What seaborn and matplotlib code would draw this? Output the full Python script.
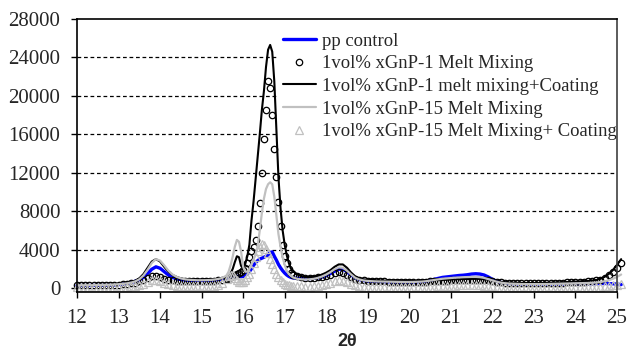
import numpy as np
import pandas as pd
import matplotlib
matplotlib.use("Agg")
import matplotlib.pyplot as plt
import seaborn as sns

# ---- data -------------------------------------------------------------
x_a = np.round(np.arange(12.0, 15.55, 0.1), 2)      # 12.0 .. 15.5
x_b = np.round(np.arange(15.6, 17.175, 0.05), 2)    # 15.60 .. 17.15
x_c = np.round(np.arange(17.2, 25.15, 0.1), 2)      # 17.2 .. 25.1
two_theta = np.concatenate([x_a, x_b, x_c])

labels = ["pp control",
          "1vol% xGnP-1 Melt Mixing",
          "1vol% xGnP-1 melt mixing+Coating",
          "1vol% xGnP-15 Melt Mixing",
          "1vol% xGnP-15 Melt Mixing+ Coating"]

pp_control = [
    250, 250, 260, 260, 270, 270, 280, 290, 300, 320, 350, 400, 480, 580, 700, 850, 1100, 1500,
    1950, 2200, 2050, 1700, 1350, 1100, 950, 880, 830, 800, 790, 780, 780, 790, 810, 840, 880, 930,
    980, 1020, 1080, 1150, 1200, 1220, 1200, 1170, 1200, 1300, 1450, 1700, 2000, 2350, 2650, 2850,
    3000, 3100, 3200, 3300, 3450, 3700, 3750, 3300, 2900, 2450, 2100, 1800, 1550, 1350, 1200, 1100,
    1050, 1000, 980, 970, 980, 1000, 1050, 1150, 1300, 1500, 1750, 1950, 1950, 1700, 1350, 1050,
    880, 780, 720, 690, 670, 650, 640, 630, 620, 610, 600, 600, 600, 610, 630, 660, 720, 800,
    900, 1000, 1100, 1150, 1200, 1250, 1300, 1330, 1380, 1450, 1480, 1450, 1350, 1150, 900, 700,
    580, 500, 450, 420, 400, 390, 380, 370, 360, 360, 350, 350, 350, 360, 370, 380, 390, 400,
    410, 420, 430, 440, 450, 460, 470, 470, 460, 440, 400, 350]

gnp1_melt = [
    280, 280, 280, 290, 290, 300, 300, 310, 320, 330, 350, 380, 420, 480, 560, 680, 850, 1050,
    1200, 1200, 1100, 950, 850, 780, 730, 700, 690, 690, 700, 700, 710, 720, 740, 770, 820, 880,
    950, 1000, 1100, 1250, 1400, 1500, 1600, 1700, 1850, 2100, 2600, 3200, 3800, 4300, 5000, 6500,
    8800, 12000, 15500, 18500, 21500, 20800, 18000, 14500, 11500, 9000, 6500, 4500, 3300, 2600, 2000, 1600,
    1400, 1200, 1100, 1050, 1050, 1050, 1100, 1150, 1250, 1400, 1550, 1650, 1600, 1400, 1150, 950,
    850, 780, 740, 720, 700, 690, 680, 670, 660, 650, 650, 650, 650, 650, 650, 660, 670, 690,
    710, 730, 750, 770, 790, 800, 820, 830, 850, 860, 860, 850, 820, 780, 720, 650,
    600, 560, 530, 510, 500, 490, 480, 480, 480, 480, 490, 500, 510, 520, 540, 560, 580, 600,
    620, 640, 660, 690, 720, 780, 880, 1050, 1300, 1650, 2100, 2600]

gnp1_coat = [
    300, 300, 300, 310, 310, 320, 330, 340, 360, 380, 410, 450, 500, 600, 750, 1000, 1450, 2100,
    2750, 3000, 2750, 2200, 1700, 1350, 1150, 1000, 920, 880, 850, 840, 840, 850, 870, 900, 950, 1020,
    1150, 1300, 1550, 2000, 2700, 3300, 3200, 2300, 2100, 2500, 3300, 4500, 7000, 9000, 11300, 13500,
    16000, 18500, 20500, 23000, 24800, 25300, 24600, 21500, 16500, 11500, 8300, 6000, 4500, 3400, 2600, 2000,
    1800, 1400, 1250, 1150, 1150, 1150, 1250, 1400, 1600, 1850, 2200, 2450, 2450, 2100, 1600, 1200,
    1000, 900, 850, 820, 800, 780, 770, 760, 750, 740, 730, 720, 720, 720, 730, 740, 760, 780,
    800, 820, 840, 860, 880, 900, 920, 930, 940, 950, 950, 940, 900, 850, 780, 700,
    640, 600, 570, 550, 540, 530, 520, 520, 520, 520, 530, 540, 550, 560, 580, 600, 620, 640,
    660, 680, 700, 730, 770, 830, 950, 1150, 1450, 1850, 2400, 3000]

gnp15_melt = [
    280, 280, 280, 290, 290, 300, 310, 320, 340, 360, 390, 430, 480, 560, 680, 900, 1300, 1900,
    2600, 3000, 2850, 2350, 1800, 1400, 1150, 1000, 900, 850, 820, 800, 800, 810, 830, 870, 930, 1050,
    1300, 1700, 2400, 3300, 4300, 5000, 4800, 3800, 2200, 1700, 1700, 2000, 2500, 3000, 3500, 4400,
    6000, 7800, 9300, 10300, 10800, 11000, 10800, 9500, 7500, 5600, 4300, 3200, 2400, 1800, 1450, 1250,
    1100, 950, 900, 880, 900, 950, 1050, 1200, 1400, 1650, 1950, 2150, 2100, 1800, 1400, 1050,
    880, 780, 730, 700, 680, 670, 660, 650, 640, 630, 620, 620, 620, 630, 640, 660, 700, 760,
    830, 900, 960, 1000, 1040, 1070, 1100, 1120, 1140, 1150, 1150, 1120, 1050, 920, 780, 650,
    560, 500, 460, 440, 420, 410, 400, 400, 400, 400, 400, 410, 420, 430, 440, 450, 460, 470,
    480, 490, 500, 520, 540, 570, 620, 700, 800, 950, 1150, 1400]

gnp15_coat = [
    80, 80, 80, 80, 90, 90, 90, 100, 100, 110, 120, 130, 150, 180, 230, 320, 450, 620,
    780, 800, 700, 520, 380, 280, 220, 190, 170, 160, 160, 160, 170, 180, 200, 240, 320, 500,
    900, 1200, 1400, 1300, 1000, 800, 650, 600, 650, 800, 1100, 1500, 2000, 2600, 3200, 3800,
    4300, 4600, 4500, 4100, 3600, 3000, 2500, 2000, 1500, 1100, 800, 600, 450, 350, 300, 250,
    220, 180, 160, 150, 150, 160, 200, 280, 400, 550, 700, 800, 750, 580, 400, 260,
    190, 150, 130, 120, 110, 100, 100, 100, 100, 100, 100, 100, 100, 100, 100, 110, 120, 130,
    150, 170, 190, 210, 230, 250, 260, 270, 280, 280, 280, 270, 240, 200, 160, 130,
    110, 100, 90, 80, 80, 80, 80, 80, 80, 80, 80, 80, 80, 80, 80, 80, 80, 80,
    80, 80, 90, 90, 100, 110, 130, 160, 200, 260, 340, 450]

x_ticks = list(range(12, 26))
y_ticks = [0, 4000, 8000, 12000, 16000, 20000, 24000, 28000]

# ---- figure -------------------------------------------------------------
sns.set_theme(style="white")
plt.rcParams["font.family"] = ["Liberation Serif", "DejaVu Serif"]

fig = plt.figure(figsize=(6.28, 3.56), dpi=100)
ax = fig.add_axes([77 / 628, 1 - 292 / 356, 540 / 628, 273 / 356])

df = pd.DataFrame({"x": two_theta, "pp": pp_control, "g1m": gnp1_melt,
                   "g1c": gnp1_coat, "g15m": gnp15_melt, "g15c": gnp15_coat})

common = dict(ax=ax, sort=False, estimator=None, clip_on=False)
sns.lineplot(data=df, x="x", y="pp", color="#0000ff", linewidth=2.4,
             label=labels[0], **common)
sns.lineplot(data=df, x="x", y="g1m", color="black", linestyle="none",
             marker="o", markersize=4.6, markerfacecolor="none",
             markeredgecolor="black", markeredgewidth=0.9,
             label=labels[1], **common)
sns.lineplot(data=df, x="x", y="g1c", color="black", linewidth=1.5,
             label=labels[2], **common)
sns.lineplot(data=df, x="x", y="g15m", color="#c0c0c0", linewidth=1.6,
             label=labels[3], **common)
sns.lineplot(data=df, x="x", y="g15c", color="#c0c0c0", linestyle="none",
             marker="^", markersize=5.6, markerfacecolor="none",
             markeredgecolor="#c0c0c0", markeredgewidth=0.9,
             label=labels[4], **common)

ax.set_xlim(12, 25.0)
ax.set_ylim(-420, 28000)
ax.set_xticks(x_ticks)
ax.set_yticks(y_ticks)
ax.set_xticklabels([str(t) for t in x_ticks])
ax.set_yticklabels([str(t) for t in y_ticks])
ax.tick_params(axis="both", labelsize=15, length=4, width=1, color="black",
               direction="out", bottom=True, left=True)
ax.tick_params(axis="y", pad=8)
ax.tick_params(axis="x", pad=8)

for yv in y_ticks[1:-1]:
    ax.axhline(yv, color="black", linewidth=0.9, linestyle=(0, (3, 2.2)), zorder=0.5)

for s in ["left", "top", "bottom"]:
    ax.spines[s].set_color("black")
    ax.spines[s].set_linewidth(1.2)
    ax.spines[s].set_zorder(3)
ax.spines["right"].set_color("#404040")
ax.spines["right"].set_linewidth(1.2)
ax.spines["right"].set_zorder(3)

ax.set_ylabel("")
ax.set_xlabel("2θ", fontsize=13, fontweight="bold",
              family=["Liberation Sans", "DejaVu Sans"], labelpad=4)

leg = ax.legend(loc="upper left",
                bbox_to_anchor=((279 - 77) / 540, 1.0 - 10 / 273),
                fontsize=13.4, frameon=True, fancybox=False, framealpha=1,
                edgecolor="none", facecolor="white", borderaxespad=0,
                handlelength=1.8, handletextpad=0.3, labelspacing=0.3,
                borderpad=0.2)
leg.set_zorder(2.5)

fig.savefig("out.png", dpi=100)
